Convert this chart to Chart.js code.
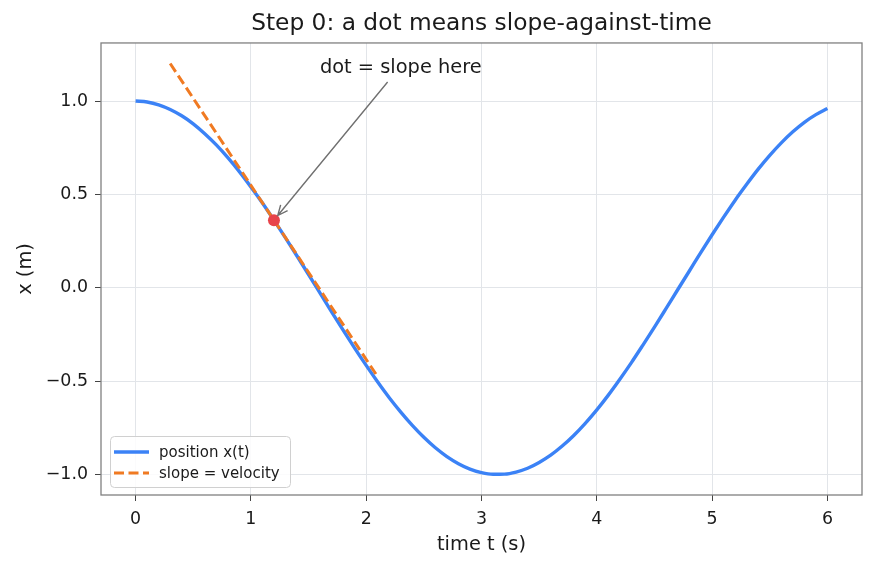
<!DOCTYPE html>
<html>
<head>
<meta charset="utf-8">
<script src="https://cdn.jsdelivr.net/npm/chart.js@4/dist/chart.umd.min.js"></script>
<style>
  html, body { margin: 0; padding: 0; background: #fff; }
  #wrap { width: 875px; height: 569px; }
</style>
</head>
<body>
<div id="wrap"><canvas id="slopeChart" width="875" height="569"></canvas></div>
<script>
// values
const timeValues = [0.0, 0.1, 0.2, 0.3, 0.4, 0.5, 0.6, 0.7, 0.8, 0.9,
  1.0, 1.1, 1.2, 1.3, 1.4, 1.5, 1.6, 1.7, 1.8, 1.9,
  2.0, 2.1, 2.2, 2.3, 2.4, 2.5, 2.6, 2.7, 2.8, 2.9,
  3.0, 3.1, 3.2, 3.3, 3.4, 3.5, 3.6, 3.7, 3.8, 3.9,
  4.0, 4.1, 4.2, 4.3, 4.4, 4.5, 4.6, 4.7, 4.8, 4.9,
  5.0, 5.1, 5.2, 5.3, 5.4, 5.5, 5.6, 5.7, 5.8, 5.9, 6.0];
const positionValues = [1.000, 0.995, 0.980, 0.955, 0.921, 0.878, 0.825, 0.765, 0.697, 0.622,
  0.540, 0.454, 0.362, 0.267, 0.170, 0.071, -0.029, -0.129, -0.227, -0.323,
  -0.416, -0.505, -0.589, -0.666, -0.737, -0.801, -0.857, -0.904, -0.942, -0.971,
  -0.990, -0.999, -0.998, -0.987, -0.967, -0.936, -0.897, -0.848, -0.791, -0.726,
  -0.654, -0.575, -0.490, -0.401, -0.307, -0.211, -0.112, -0.012, 0.087, 0.187,
  0.284, 0.378, 0.469, 0.554, 0.635, 0.709, 0.776, 0.835, 0.886, 0.927, 0.960];
const slopeTimes = [0.3, 2.1];
const slopeValues = [1.201, -0.477];
const dotTime = [1.2];
const dotValue = [0.362];
const xTicks = [0, 1, 2, 3, 4, 5, 6];
const yTicks = [-1.0, -0.5, 0.0, 0.5, 1.0];
const seriesLabels = ["position x(t)", "slope = velocity"];
const noteText = "dot = slope here";
const noteAt = [2.3, 1.15];

const blue = "#3b82f6";
const orange = "#f07a22";
const red = "#e8434a";
const textColor = "#1a1a1a";
const font = "DejaVu Sans";

const toPoints = (xs, ys) => xs.map((x, i) => ({ x: x, y: ys[i] }));

// frame, legend box and the arrow note, drawn on top
const extras = {
  id: "extras",
  afterDatasetsDraw(chart) {
    const { ctx, chartArea: a, scales } = chart;
    ctx.save();

    // note + arrow
    const tx = scales.x.getPixelForValue(noteAt[0]);
    const ty = scales.y.getPixelForValue(noteAt[1]);
    const dx = scales.x.getPixelForValue(dotTime[0]);
    const dy = scales.y.getPixelForValue(dotValue[0]);
    ctx.font = "19.4px '" + font + "'";
    ctx.fillStyle = textColor;
    ctx.textAlign = "center";
    ctx.textBaseline = "alphabetic";
    ctx.fillText(noteText, tx, ty);
    const cx = tx, cy = ty - 7;
    let ux = dx - cx, uy = dy - cy;
    const len = Math.hypot(ux, uy);
    ux /= len; uy /= len;
    const t0 = (ty + 9 - cy) / uy;
    const sx = cx + ux * t0, sy = cy + uy * t0;
    const ex = dx - ux * 6, ey = dy - uy * 6;
    ctx.strokeStyle = "#707070";
    ctx.lineWidth = 1.4;
    ctx.beginPath();
    ctx.moveTo(sx, sy);
    ctx.lineTo(ex, ey);
    const hl = 10, hw = 4.5;
    const px = -uy, py = ux;
    ctx.moveTo(ex - ux * hl + px * hw, ey - uy * hl + py * hw);
    ctx.lineTo(ex, ey);
    ctx.lineTo(ex - ux * hl - px * hw, ey - uy * hl - py * hw);
    ctx.stroke();

    // legend
    const lx = a.left + 9, ly = a.bottom - 59, lw = 180, lh = 51;
    ctx.fillStyle = "rgba(255,255,255,0.85)";
    ctx.strokeStyle = "#d0d0d0";
    ctx.lineWidth = 1;
    ctx.beginPath();
    ctx.roundRect(lx + 0.5, ly + 0.5, lw, lh, 4);
    ctx.fill();
    ctx.stroke();
    const rows = [chart.data.datasets[2], chart.data.datasets[1]];
    ctx.font = "15px '" + font + "'";
    ctx.textAlign = "left";
    ctx.textBaseline = "middle";
    rows.forEach((ds, i) => {
      const ry = ly + 16 + i * 21;
      ctx.strokeStyle = ds.borderColor;
      ctx.lineWidth = ds.borderWidth;
      ctx.setLineDash(ds.borderDash || []);
      ctx.beginPath();
      ctx.moveTo(lx + 4, ry);
      ctx.lineTo(lx + 39, ry);
      ctx.stroke();
      ctx.setLineDash([]);
      ctx.fillStyle = textColor;
      ctx.fillText(ds.label, lx + 49, ry + 1);
    });

    // frame
    ctx.strokeStyle = "#808080";
    ctx.lineWidth = 1.3;
    ctx.strokeRect(a.left, a.top, a.right - a.left, a.bottom - a.top);
    ctx.restore();
  }
};

const ctx = document.getElementById("slopeChart").getContext("2d");

new Chart(ctx, {
  type: "line",
  data: {
    datasets: [
      {
        label: "dot",
        data: toPoints(dotTime, dotValue),
        showLine: false,
        pointRadius: 6,
        pointBackgroundColor: red,
        pointBorderColor: red,
        pointBorderWidth: 0,
        order: 0,
      },
      {
        label: seriesLabels[1],
        data: toPoints(slopeTimes, slopeValues),
        borderColor: orange,
        borderWidth: 3,
        borderDash: [10, 4.5],
        pointRadius: 0,
        fill: false,
        order: 1,
      },
      {
        label: seriesLabels[0],
        data: toPoints(timeValues, positionValues),
        borderColor: blue,
        borderWidth: 3.4,
        pointRadius: 0,
        cubicInterpolationMode: "monotone",
        fill: false,
        order: 2,
      },
    ],
  },
  options: {
    responsive: false,
    animation: false,
    layout: { padding: { top: 0, right: 13, bottom: 0, left: 0 } },
    plugins: {
      legend: { display: false },
      tooltip: { enabled: false },
      title: {
        display: true,
        fullSize: false,
        text: "Step 0: a dot means slope-against-time",
        color: textColor,
        font: { family: font, size: 23.3, weight: "normal" },
        padding: { top: 10, bottom: 5 },
      },
    },
    scales: {
      x: {
        type: "linear",
        min: -0.3,
        max: 6.3,
        afterBuildTicks: (scale) => { scale.ticks = xTicks.map(v => ({ value: v })); },
        afterFit: (scale) => { scale.height = 74; },
        grid: { color: "#e2e5e9", tickColor: "#444", tickLength: 6, lineWidth: 1 },
        border: { display: false },
        ticks: {
          color: textColor,
          padding: 8,
          maxRotation: 0,
          font: { family: font, size: 17.4 },
          callback: (v) => String(v),
        },
        title: {
          display: true,
          text: "time t (s)",
          color: textColor,
          font: { family: font, size: 19.4 },
          padding: { top: 12, bottom: 12 },
        },
      },
      y: {
        type: "linear",
        min: -1.11,
        max: 1.311,
        afterBuildTicks: (scale) => { scale.ticks = yTicks.map(v => ({ value: v })); },
        afterFit: (scale) => { scale.width = 101; },
        grid: { color: "#e2e5e9", tickColor: "#444", tickLength: 6, lineWidth: 1 },
        border: { display: false },
        ticks: {
          color: textColor,
          padding: 7,
          font: { family: font, size: 17.4 },
          callback: (v) => (v < 0 ? "\u2212" : "") + Math.abs(v).toFixed(1),
        },
        title: {
          display: true,
          text: "x (m)",
          color: textColor,
          font: { family: font, size: 19.4 },
          padding: { top: 14, bottom: 14 },
        },
      },
    },
  },
  plugins: [extras],
});
</script>
</body>
</html>
